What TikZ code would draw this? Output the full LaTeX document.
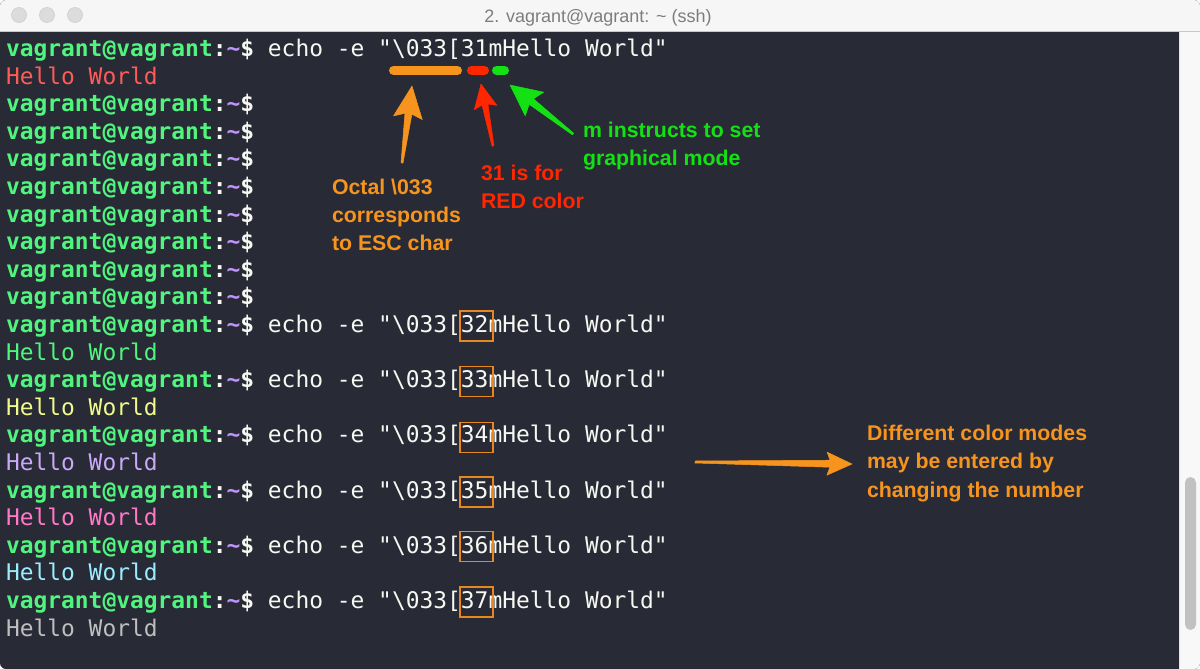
\documentclass[tikz,border=0pt]{standalone}
\usepackage{fontspec}
\usetikzlibrary{calc}
\setmainfont{Liberation Sans}
\newfontfamily\term{DejaVu Sans Mono}
\newfontfamily\ann{Liberation Sans}
\definecolor{termbg}{RGB}{40,42,54}
\definecolor{titlebg}{RGB}{246,246,246}
\definecolor{titleline}{RGB}{200,200,200}
\definecolor{titletext}{RGB}{125,125,125}
\definecolor{tl}{RGB}{220,220,220}
\definecolor{tlb}{RGB}{205,205,205}
\definecolor{scrollbg}{RGB}{248,248,248}
\definecolor{scrollline}{RGB}{228,228,228}
\definecolor{thumb}{RGB}{193,193,193}
\definecolor{fg}{RGB}{248,248,242}
\definecolor{pgreen}{RGB}{80,245,125}
\definecolor{ppurple}{RGB}{190,150,250}
\definecolor{hred}{RGB}{255,92,87}
\definecolor{hgreen}{RGB}{80,245,125}
\definecolor{hyellow}{RGB}{241,250,140}
\definecolor{hpurple}{RGB}{202,169,250}
\definecolor{hpink}{RGB}{255,121,198}
\definecolor{hcyan}{RGB}{154,237,254}
\definecolor{hgray}{RGB}{191,191,191}
\definecolor{aorange}{RGB}{247,148,29}
\definecolor{ared}{RGB}{255,38,0}
\definecolor{agreen}{RGB}{20,225,20}
\definecolor{boxorange}{RGB}{232,135,30}
\newcommand\prm{{\bfseries\textcolor{pgreen}{vagrant@vagrant}\textcolor{fg}{:}\textcolor{ppurple}{\string~}\textcolor{fg}{\$}}}
\newcommand\cmdline[1]{\prm\ echo -e "\textbackslash033[#1mHello World"}
% #1 tail, #2 tip, #3 colour, #4 shaft half width, #5 junction dist, #6 barb dist, #7 head half width
\newcommand\skarrow[7]{%
  \coordinate (skJ) at ($(#2)!#5!(#1)$);
  \coordinate (skB) at ($(#2)!#6!(#1)$);
  \filldraw[fill=#3, draw=#3, line width=0.5pt, line join=round]
    ($(#1)!1pt!90:(#2)$) -- ($(skJ)!#4!90:(#2)$) -- ($(skB)!#7!90:(#2)$) -- (#2)
    -- ($(skB)!#7!-90:(#2)$) -- ($(skJ)!#4!-90:(#2)$) -- ($(#1)!1pt!-90:(#2)$) -- cycle;
}
\tikzset{
  every node/.style={inner sep=0pt, outer sep=0pt},
  tline/.style={anchor=base west, font=\term\fontsize{22.9}{27.6}\selectfont, text=fg},
  annot/.style={anchor=base west, font=\ann\bfseries\fontsize{21.3}{28}\selectfont},
  numbox/.style={draw=boxorange, line width=1.4pt, minimum width=33pt, minimum height=30pt},
  bar/.style={line width=9pt, line cap=round},
}
\begin{document}
\begin{tikzpicture}[x=1pt,y=-1pt]
\useasboundingbox (0,0) rectangle (1200,669);
\fill[white] (0,0) rectangle (1200,669);
\begin{scope}
  \clip[rounded corners=6pt] (0,0) rectangle (1200,669);
  \fill[termbg] (0,0) rectangle (1200,669);
  \fill[titlebg] (0,0) rectangle (1200,31);
  \draw[titleline, line width=1pt] (0,31.5) -- (1200,31.5);
  \fill[scrollbg] (1179,32) rectangle (1200,669);
  \draw[scrollline, line width=1pt] (1179.5,32) -- (1179.5,669);
  \fill[thumb, rounded corners=5.5pt] (1185,477) rectangle (1196,630);
\end{scope}
\foreach \cx in {19,47,75} \filldraw[fill=tl, draw=tlb, line width=0.6pt] (\cx,15) circle (7.5);
\node[anchor=base, font=\ann\fontsize{18}{20}\selectfont, text=titletext] (title) at (598,22.5) {2. vagrant@vagrant: \textasciitilde\ (ssh)};

% terminal lines
\node[tline] (l1) at (6,56.5) {\cmdline{31}};
\node[tline, text=hred] (l2) at (6,84.1) {Hello World};
\node[tline] (l3) at (6,111.7) {\prm};
\node[tline] (l4) at (6,139.3) {\prm};
\node[tline] (l5) at (6,166.9) {\prm};
\node[tline] (l6) at (6,194.5) {\prm};
\node[tline] (l7) at (6,222.1) {\prm};
\node[tline] (l8) at (6,249.7) {\prm};
\node[tline] (l9) at (6,277.3) {\prm};
\node[tline] (l10) at (6,304.9) {\prm};
\node[tline] (l11) at (6,332.5) {\cmdline{32}};
\node[tline, text=hgreen] (l12) at (6,360.1) {Hello World};
\node[tline] (l13) at (6,387.7) {\cmdline{33}};
\node[tline, text=hyellow] (l14) at (6,415.3) {Hello World};
\node[tline] (l15) at (6,442.9) {\cmdline{34}};
\node[tline, text=hpurple] (l16) at (6,470.5) {Hello World};
\node[tline] (l17) at (6,498.1) {\cmdline{35}};
\node[tline, text=hpink] (l18) at (6,525.7) {Hello World};
\node[tline] (l19) at (6,553.3) {\cmdline{36}};
\node[tline, text=hcyan] (l20) at (6,580.9) {Hello World};
\node[tline] (l21) at (6,608.5) {\cmdline{37}};
\node[tline, text=hgray] (l22) at (6,636.1) {Hello World};

% number boxes
\node[numbox] (b32) at (476.5,326) {};
\node[numbox] (b33) at (476.5,381.6) {};
\node[numbox] (b34) at (476.5,437.2) {};
\node[numbox] (b35) at (476.5,491.8) {};
\node[numbox] (b36) at (476.5,546.4) {};
\node[numbox] (b37) at (476.5,602) {};

% highlight bars
\draw[bar, aorange] (393.5,70.5) -- (457.5,70.5);
\draw[bar, ared] (471.5,70.5) -- (484.5,70.5);
\draw[bar, agreen] (496.5,70.5) -- (504.5,70.5);

% annotation texts
\node[annot, text=aorange] (oc1) at (332,194) {Octal \textbackslash033};
\node[annot, text=aorange] (oc2) at (332,222) {corresponds};
\node[annot, text=aorange] (oc3) at (332,250) {to ESC char};
\node[annot, text=ared] (rd1) at (481,180) {31 is for};
\node[annot, text=ared] (rd2) at (481,208) {RED color};
\node[annot, text=agreen] (gr1) at (583,137) {m instructs to set};
\node[annot, text=agreen] (gr2) at (583,165) {graphical mode};
\node[annot, text=aorange] (df1) at (867,440) {Different color modes};
\node[annot, text=aorange] (df2) at (867,468) {may be entered by};
\node[annot, text=aorange] (df3) at (867,497) {changing the number};

% arrows
\coordinate (oT) at (402,163);
\coordinate (oP) at (412,86);
\coordinate (rT) at (493,146);
\coordinate (rP) at (481,84);
\coordinate (gT) at (573,134);
\coordinate (gP) at (510,85);
\coordinate (dT) at (695,462);
\coordinate (dP) at (852,464);
\skarrow{oT}{oP}{aorange}{3.5pt}{28pt}{32pt}{14.5pt}
\skarrow{rT}{rP}{ared}{3pt}{21pt}{24pt}{11.5pt}
\skarrow{gT}{gP}{agreen}{3.5pt}{27pt}{31pt}{15pt}
\skarrow{dT}{dP}{aorange}{3.5pt}{22pt}{25pt}{11.5pt}
\end{tikzpicture}
\end{document}
